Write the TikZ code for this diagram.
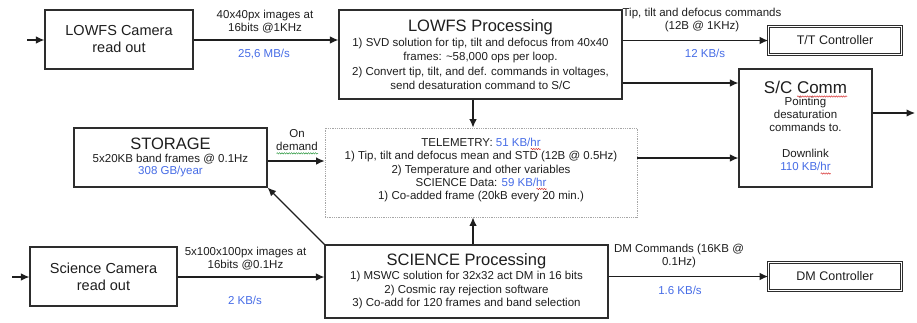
\documentclass[tikz,border=0pt]{standalone}
\usepackage{fontspec}
\setmainfont{Liberation Sans}
\usetikzlibrary{arrows.meta,decorations.pathmorphing}

\definecolor{ink}{RGB}{30,30,30}
\definecolor{rate}{RGB}{70,108,230}
\definecolor{boxline}{RGB}{45,45,45}
\definecolor{spellred}{RGB}{215,40,40}
\definecolor{spellgreen}{RGB}{40,150,60}

% wavy spell-check style underline below a word
\newsavebox\wavebox
\newcommand\wavy[2]{%
  \sbox\wavebox{#2}%
  \rlap{\tikz[baseline=0pt]\draw[#1, line width=0.45pt, decorate,
      decoration={snake, amplitude=0.7pt, segment length=2.4pt}]
      (0pt,-2.6pt) -- (\the\wd\wavebox,-2.6pt);}%
  \usebox\wavebox}
\newcommand\redwave[1]{\wavy{spellred}{#1}}
\newcommand\greenwave[1]{\wavy{spellgreen}{#1}}

\tikzset{
  box/.style={draw=boxline, line width=1.2pt, fill=white, text=ink, align=center, inner sep=2pt},
  ctrl/.style={draw=boxline, line width=0.7pt, double=white, double distance=1.4pt, text=ink,
    align=center, minimum width=133pt, minimum height=28pt, inner sep=0pt,
    font=\fontsize{12.5}{14}\selectfont},
  telbox/.style={draw=gray!70, densely dotted, line width=0.8pt, text=ink, align=center, inner sep=2pt},
  arr/.style={draw=ink, line width=1.2pt, -{Latex[length=8.5pt,width=7.5pt]}},
  lbl/.style={text=ink, align=center, inner sep=0pt, font=\fontsize{11.5}{13}\selectfont},
  ratelbl/.style={text=rate, inner sep=0pt, font=\fontsize{11.5}{13}\selectfont},
  camfont/.style={font=\fontsize{14.5}{17}\selectfont},
}

\begin{document}
\begin{tikzpicture}[x=1pt,y=-1pt]
\useasboundingbox (0,0) rectangle (917,322);

% ---- boxes ----
\node[box, camfont, minimum width=148pt, minimum height=59pt] (lcam) at (119,39.5)
  {LOWFS Camera\\read out};

\node[box, minimum width=283pt, minimum height=89pt,
      font=\fontsize{11.5}{14.3}\selectfont] (lproc) at (480.5,54.5)
  {{\fontsize{16.5}{18}\selectfont LOWFS Processing}\\[1pt]
   1) SVD solution for tip, tilt and defocus from 40x40\\
   frames: \textasciitilde58,000 ops per loop.\\
   2) Convert tip, tilt, and def. commands in voltages,\\
   send desaturation command to S/C};

\node[ctrl] (tt) at (835,40.5) {T/T Controller};

\node[box, minimum width=133pt, minimum height=118pt,
      font=\fontsize{11.5}{13}\selectfont] (sc) at (805.5,128)
  {{\fontsize{17}{18}\selectfont S/C \redwave{Comm}}\\[-1pt]
   Pointing\\desaturation\\commands to.\\[13pt]
   Downlink\\\textcolor{rate}{110 KB/\redwave{hr}}};

\node[telbox, minimum width=312pt, minimum height=89pt,
      font=\fontsize{11.5}{13.3}\selectfont] (tel) at (481,172.5)
  {TELEMETRY: \textcolor{rate}{51 KB/\redwave{hr}}\\
   1) Tip, tilt and defocus mean and STD (12B @ 0.5Hz)\\
   2) Temperature and other variables\\
   SCIENCE Data: \textcolor{rate}{59 KB/\redwave{hr}}\\
   1) Co-added frame (20kB every 20 min.)\\[-6pt]\mbox{}};

\node[box, minimum width=193pt, minimum height=59pt,
      font=\fontsize{11.5}{12.5}\selectfont] (stor) at (170.5,157.5)
  {{\fontsize{16.5}{18}\selectfont STORAGE}\\
   5x20KB band frames @ 0.1Hz\\
   \textcolor{rate}{308 GB/year}};

\node[box, camfont, minimum width=147pt, minimum height=59pt] (scam) at (103.5,276.5)
  {Science Camera\\read out};

\node[box, minimum width=283pt, minimum height=73pt,
      font=\fontsize{11.5}{13.6}\selectfont] (sproc) at (466.5,281.5)
  {{\fontsize{16.5}{18}\selectfont SCIENCE Processing}\\
   1) MSWC solution for 32x32 act DM in 16 bits\\
   2) Cosmic ray rejection software\\
   3) Co-add for 120 frames and band selection};

\node[ctrl] (dm) at (835,276.5) {DM Controller};

% ---- free ends of the input / output arrows ----
\coordinate (in1) at (27,40);
\coordinate (in2) at (12,277);
\coordinate (out1) at (915,113);

% ---- connectors ----
\draw[arr] (in1) -- (in1 -| lcam.west);
\draw[arr] (in2) -- (in2 -| scam.west);

\draw[arr] (lcam.east |- in1) -- (in1 -| lproc.west);
\draw[arr] (lproc.east |- tt.west) -- (tt.west);
\draw[arr] ([yshift=-28.5pt]lproc.east) -- ([yshift=-28.5pt]lproc.east -| sc.west);
\draw[arr] (sc.east |- out1) -- (out1);

\draw[arr] ([xshift=-8pt]tel.north |- lproc.south) -- ([xshift=-8pt]tel.north);
\draw[arr] ([xshift=-8pt]tel.south |- sproc.north) -- ([xshift=-8pt]tel.south);
\draw[arr] ([yshift=14.5pt]tel.east) -- ([yshift=14.5pt]tel.east -| sc.west);
\draw[arr] ([yshift=-3.5pt]stor.east) -- ([yshift=-3.5pt]stor.east -| tel.west);
\draw[arr] (sproc.north west) -- (stor.south east);

\draw[arr] (scam.east |- in2) -- (in2 -| sproc.west);
\draw[arr] (sproc.east |- dm.west) -- (dm.west);

% ---- connector labels ----
\node[lbl] (l1) at (265,21.5) {40x40px images at\\16bits @1KHz};
\node[ratelbl] (l1r) at (264,54) {25,6 MB/s};

\node[lbl] (l2) at (702,20.5) {Tip, tilt and defocus commands\\(12B @ 1KHz)};
\node[ratelbl] (l2r) at (705,53) {12 KB/s};

\node[lbl] (l3) at (297,142) {On\\\greenwave{demand}};

\node[lbl] (l4) at (245.5,258.5) {5x100x100px images at\\16bits @0.1Hz};
\node[ratelbl] (l4r) at (245,300) {2 KB/s};

\node[lbl] (l5) at (679,256.5) {DM Commands (16KB @\\0.1Hz)};
\node[ratelbl] (l5r) at (680,290) {1.6 KB/s};
\end{tikzpicture}
\end{document}
